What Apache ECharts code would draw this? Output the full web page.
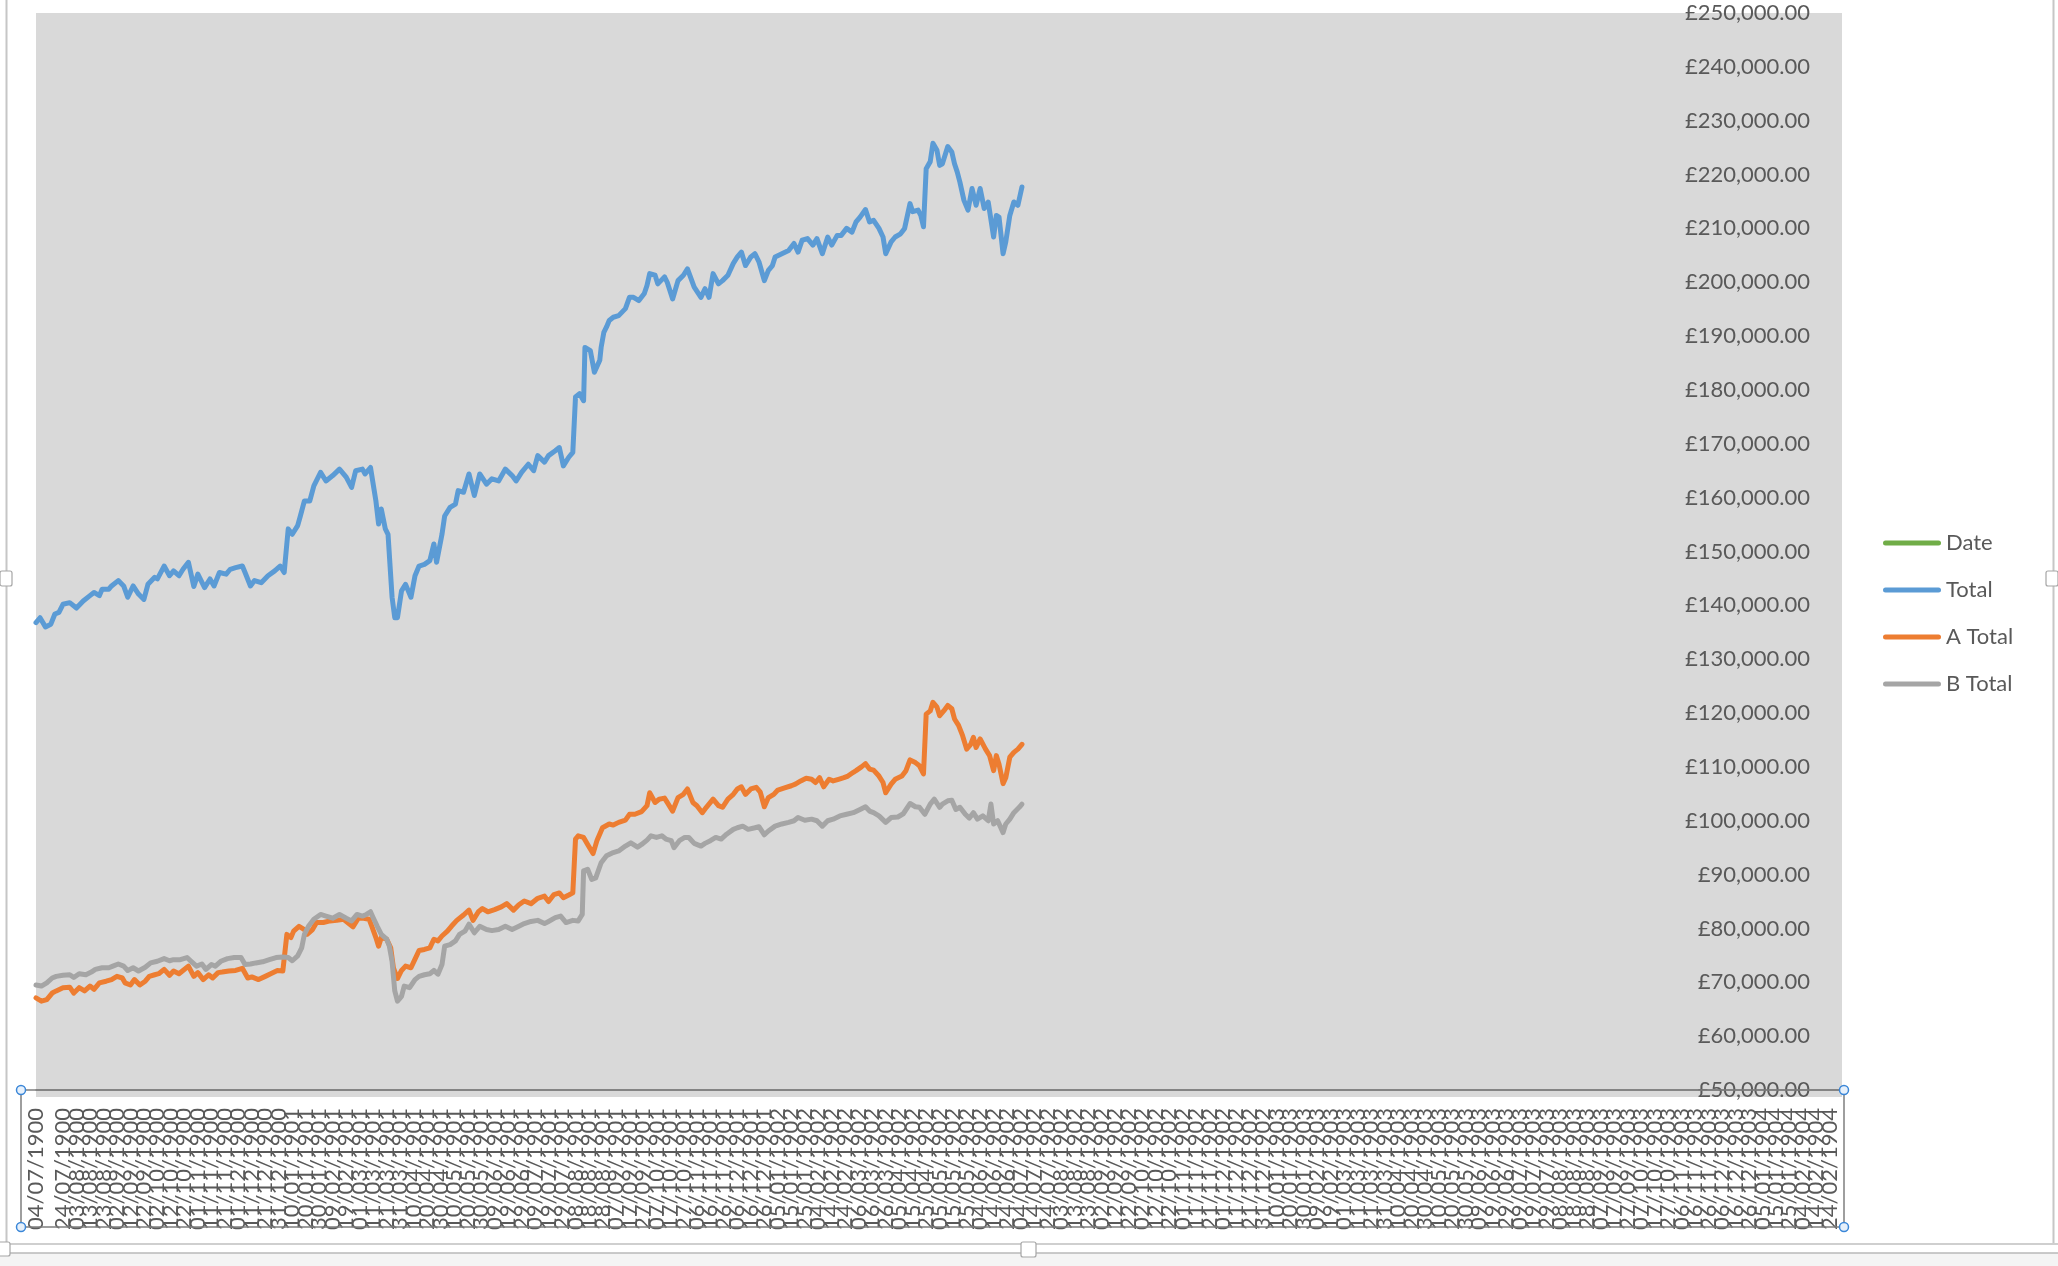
<!DOCTYPE html>
<html>
<head>
<meta charset="utf-8">
<script src="https://cdn.jsdelivr.net/npm/echarts@6/dist/echarts.min.js"></script>
<style>
html,body{margin:0;padding:0;background:#fff;}
#chart{width:2058px;height:1266px;}
</style>
</head>
<body>
<div id="chart"></div>
<script>
// Day offsets are counted from 04/07/1900
const startDate = [1900, 7, 4];
const seriesNames = ['Date', 'Total', 'A Total', 'B Total'];
const seriesColors = ['#70ad47', '#5b9bd5', '#ed7d31', '#a5a5a5'];
const yMin = 50000, yMax = 250000, yStep = 10000;
const xStepDays = 10, xLastLabelDay = 1330;

const totalDays = [0,3,7,11,14,17,20,25,30,35,40,43,47,49,54,56,61,65,68,72,76,80,83,88,90,95,99,102,106,109,113,117,120,125,129,132,136,141,144,148,153,155,159,162,167,172,177,181,184,187,190,194,196,199,203,206,211,215,220,225,230,234,237,242,244,248,252,254,256,259,261,264,266,268,271,274,278,281,284,288,292,295,297,301,303,307,311,313,317,321,325,329,334,338,343,348,353,356,360,365,369,372,377,380,385,388,391,395,398,400,403,406,407,411,414,418,419,421,423,425,428,432,437,440,443,447,451,453,455,459,461,466,468,472,476,480,483,488,493,496,499,502,506,509,513,517,520,523,526,530,533,536,540,543,546,548,553,558,562,565,568,572,576,579,583,587,590,594,597,601,605,608,611,615,618,621,625,628,630,634,637,641,644,648,650,654,656,658,660,663,665,668,670,672,676,679,681,683,685,688,691,694,697,700,703,706,710,712,714,717,719,722,725,728,731];
const totalValues = [136800,137700,136000,136500,138400,138700,140200,140500,139500,140800,141800,142400,141800,143000,143000,143600,144600,143600,141500,143600,142100,141100,143900,145200,144900,147300,145500,146400,145500,146700,148000,143500,145800,143300,144900,143600,146100,145800,146700,147000,147300,146100,143600,144600,144200,145500,146400,147300,146100,154200,153200,154800,156600,159400,159400,162200,164700,163100,164100,165300,163800,161900,165000,165300,164400,165600,159400,155100,157900,154200,153200,141500,137700,137700,142700,143900,141500,145500,147300,147600,148300,151400,148000,153200,156600,158200,158800,161300,161000,164400,160400,164400,162500,163500,163100,165300,164100,163100,164700,166200,165000,167800,166600,167800,168700,169300,165900,167500,168400,178700,179300,178000,187900,187300,183300,185500,187900,190700,191700,192900,193500,193800,195100,197200,197200,196600,197900,199400,201600,201300,199700,201000,200000,196900,200300,201300,202500,199100,197200,198800,197200,201600,199700,200300,201300,203500,204700,205600,203100,204700,205300,203800,200300,202200,203100,204700,205300,205900,207200,205600,207800,208100,206900,208100,205300,208400,206900,208700,208700,210000,209300,211200,212100,213500,211200,211500,210000,208400,205300,207500,208400,209000,210000,214600,213100,213400,212400,210300,221100,222400,225800,224500,221700,222000,225200,224200,222000,220500,218600,215200,213400,217400,214300,217400,213700,214900,208400,212400,212100,205300,207500,212400,214900,214300,217700];

const aDays = [0,4,8,12,15,20,25,28,32,36,40,43,47,52,56,60,64,66,70,73,77,81,84,88,91,95,99,102,106,109,113,117,120,124,128,131,135,138,143,148,153,157,160,165,170,174,179,183,186,189,191,195,199,201,205,208,213,218,223,228,231,235,239,243,247,249,252,254,256,260,263,265,268,271,274,278,281,284,288,292,295,298,301,305,308,312,317,321,324,328,331,335,340,345,349,354,358,362,367,372,377,380,384,388,391,395,398,400,402,406,409,413,416,420,425,428,432,437,440,444,449,453,455,459,462,466,468,472,476,480,483,487,490,494,497,502,506,509,513,517,520,523,526,530,534,537,540,543,547,550,555,560,563,567,571,575,578,581,584,588,591,595,599,602,606,608,612,615,618,621,625,628,630,634,637,642,645,648,652,655,658,660,663,665,668,670,673,676,679,681,684,687,690,693,695,697,700,704,707,710,712,714,717,719,722,725,728,731];
const aValues = [67100,66500,66800,68000,68400,69000,69100,68000,69000,68400,69300,68700,69900,70200,70500,71100,70800,69900,69500,70500,69500,70200,71100,71400,71600,72400,71300,72100,71600,72200,73000,71100,71800,70500,71400,70800,71800,71900,72100,72200,72600,70800,71000,70500,71100,71600,72200,72100,78900,78300,79500,80400,79800,78900,79800,81100,81100,81400,81500,81700,81100,80300,81900,81900,81700,80400,78300,76700,78300,78000,76400,72700,70700,72200,73000,72700,74300,75900,76100,76400,78000,77700,78600,79500,80400,81500,82500,83400,81500,83100,83700,83100,83500,84000,84600,83400,84400,85100,84600,85600,86000,85000,86300,86600,85700,86200,86600,96600,97200,96900,95600,93900,96400,98700,99400,99200,99700,100100,101200,101200,101700,102800,105200,103400,104000,104200,103400,101800,104300,104900,105900,103400,102800,101500,102500,104000,102800,102500,104000,104900,105900,106300,104900,105900,106200,105300,102600,104300,104900,105700,106100,106500,106800,107400,107900,107700,107100,108000,106300,107700,107400,107700,108000,108300,109000,109300,110000,110600,109600,109400,108300,107100,105200,106800,107700,108300,109300,111300,110800,110200,108700,119800,120400,122000,121100,119500,120400,121400,120800,118900,117700,115800,113300,114200,115500,113600,115200,113300,112100,109300,112100,110500,106900,108000,111800,112700,113300,114200];

const bDays = [0,4,8,12,15,20,25,28,32,37,41,44,49,54,57,61,65,68,72,76,81,85,90,95,99,102,107,112,115,119,123,126,130,133,137,142,147,152,155,159,163,168,173,178,183,187,190,194,197,199,202,206,211,215,220,225,230,234,238,242,245,248,250,253,256,260,262,264,266,268,271,273,277,281,284,288,292,295,298,301,303,307,311,314,318,321,325,329,334,338,343,348,353,358,362,367,372,377,380,385,389,393,398,402,405,406,409,412,415,419,423,428,432,437,441,446,449,453,456,460,464,467,471,473,477,481,484,488,493,496,500,504,508,512,517,520,524,528,533,536,540,543,548,553,558,562,565,570,575,579,583,587,591,596,601,606,611,615,618,621,625,630,634,639,643,648,652,655,659,663,666,670,672,676,679,682,685,689,692,695,698,702,706,708,710,713,717,719,722,725,729,731];
const bValues = [69500,69300,69900,70800,71100,71300,71400,70900,71600,71400,71900,72400,72700,72700,73000,73400,73000,72200,72700,72100,72800,73600,73900,74400,74000,74200,74200,74600,73900,73000,73400,72400,73300,73000,73900,74400,74600,74600,73300,73400,73600,73800,74200,74600,74700,74600,74000,74900,76400,78900,80400,81700,82600,82300,81900,82600,81900,81400,82600,82300,82600,83100,82000,80400,78900,78000,76700,73900,68400,66500,67400,69300,69000,70500,71100,71400,71600,72200,71500,73300,76700,77000,77700,78900,79500,80800,79200,80400,79800,79600,79800,80400,79800,80400,80900,81300,81500,80900,81300,82000,82300,81100,81500,81400,82600,90700,91000,89100,89400,92200,93500,94100,94400,95300,95900,95100,95600,96400,97200,96900,97200,96600,96300,95000,96300,96900,96900,95800,95300,95800,96300,96900,96600,97500,98400,98700,99000,98400,98700,98900,97400,98100,99000,99400,99700,100000,100600,100100,100300,100000,99000,100000,100300,100900,101200,101500,102100,102600,101800,101500,100900,99700,100600,100700,101300,103200,102600,102500,101200,103100,104000,102500,103100,103700,103800,102100,102500,101200,100500,101500,100300,100900,100000,103100,99400,100000,97800,99400,100300,101500,102500,103100];

function pad(n){ return (n < 10 ? '0' : '') + n; }
const START_MS = Date.UTC(startDate[0], startDate[1] - 1, startDate[2]);
function fmtDate(d){
  const dt = new Date(START_MS + Math.round(d) * 86400000);
  return pad(dt.getUTCDate()) + '/' + pad(dt.getUTCMonth() + 1) + '/' + dt.getUTCFullYear();
}
function fmtMoney(v){
  return '£' + String(Math.round(v)).replace(/\B(?=(\d{3})+(?!\d))/g, ',') + '.00';
}
function pairs(days, vals){ return days.map((d, i) => [d, vals[i]]); }

const chart = echarts.init(document.getElementById('chart'), null, {renderer: 'canvas'});
const FONT = 'Lato, "Open Sans", sans-serif';
const lineSeries = (name, color, data) => ({
  name: name, type: 'line', data: data, showSymbol: false, symbol: 'none',
  color: color, itemStyle: {color: color},
  lineStyle: {color: color, width: 5, cap: 'round', join: 'round'},
  emphasis: {disabled: true}, silent: true, clip: true
});

const option = {
  backgroundColor: '#ffffff',
  animation: false,
  grid: {left: 36, right: 216, top: 13, bottom: 176, show: true, backgroundColor: '#d9d9d9', borderWidth: 0, containLabel: false, outerBoundsMode: 'none'},
  xAxis: {
    type: 'value', min: 0, max: xLastLabelDay + 9, interval: xStepDays,
    axisLine: {show: true, onZero: false, lineStyle: {color: '#7f7f7f', width: 1.5}},
    axisTick: {show: false}, splitLine: {show: false},
    axisLabel: {rotate: 90, margin: 18, color: '#595959', fontSize: 22, fontFamily: FONT,
      showMaxLabel: false, showMinLabel: true, hideOverlap: false, formatter: fmtDate}
  },
  yAxis: {
    type: 'value', position: 'right', min: yMin, max: yMax, interval: yStep,
    axisLine: {show: false}, axisTick: {show: false}, splitLine: {show: false},
    axisLabel: {inside: true, margin: 32, color: '#595959', fontSize: 22, fontFamily: FONT, formatter: fmtMoney}
  },
  legend: {
    orient: 'vertical', left: 1878, top: 527, itemWidth: 58, itemHeight: 5, itemGap: 25,
    icon: 'path://M2.5,0L55.5,0A2.5,2.5,0,0,1,55.5,5L2.5,5A2.5,2.5,0,0,1,2.5,0Z',
    textStyle: {color: '#595959', fontSize: 22, fontFamily: FONT},
    data: seriesNames, selectedMode: false
  },
  graphic: [
    {type: 'rect', z: -10, silent: true, shape: {x: 36, y: 1090, width: 1806, height: 7}, style: {fill: '#d9d9d9'}},
    {type: 'line', z: 50, silent: true, shape: {x1: 6.5, y1: 0, x2: 6.5, y2: 1244}, style: {stroke: '#c6c6c6', lineWidth: 2}},
    {type: 'line', z: 50, silent: true, shape: {x1: 2053.5, y1: 0, x2: 2053.5, y2: 1244}, style: {stroke: '#c6c6c6', lineWidth: 2}},
    {type: 'line', z: 50, silent: true, shape: {x1: 0, y1: 1244, x2: 2058, y2: 1244}, style: {stroke: '#cfcfcf', lineWidth: 2}},
    {type: 'rect', z: 49, silent: true, shape: {x: 0, y: 1253, width: 2058, height: 13}, style: {fill: '#f4f4f4'}},
    {type: 'line', z: 50, silent: true, shape: {x1: 0, y1: 1253, x2: 2058, y2: 1253}, style: {stroke: '#b8b8b8', lineWidth: 1.5}},
    {type: 'rect', z: 60, silent: true, shape: {x: 21, y: 1090, width: 1823, height: 137}, style: {fill: 'none', stroke: '#7f7f7f', lineWidth: 1.5}},
    {type: 'circle', z: 61, silent: true, shape: {cx: 21, cy: 1090, r: 4.5}, style: {fill: '#e6f0fb', stroke: '#3b87d8', lineWidth: 1.5}},
    {type: 'circle', z: 61, silent: true, shape: {cx: 1844, cy: 1090, r: 4.5}, style: {fill: '#e6f0fb', stroke: '#3b87d8', lineWidth: 1.5}},
    {type: 'circle', z: 61, silent: true, shape: {cx: 21, cy: 1227, r: 4.5}, style: {fill: '#e6f0fb', stroke: '#3b87d8', lineWidth: 1.5}},
    {type: 'circle', z: 61, silent: true, shape: {cx: 1844, cy: 1227, r: 4.5}, style: {fill: '#e6f0fb', stroke: '#3b87d8', lineWidth: 1.5}},
    {type: 'rect', z: 62, silent: true, shape: {x: 1021, y: 1242, width: 15, height: 15, r: 2}, style: {fill: '#ffffff', stroke: '#a6a6a6', lineWidth: 1.2}},
    {type: 'rect', z: 62, silent: true, shape: {x: 0, y: 571, width: 12, height: 15, r: 2}, style: {fill: '#ffffff', stroke: '#a6a6a6', lineWidth: 1.2}},
    {type: 'rect', z: 62, silent: true, shape: {x: 2046, y: 571, width: 12, height: 15, r: 2}, style: {fill: '#ffffff', stroke: '#a6a6a6', lineWidth: 1.2}},
    {type: 'rect', z: 62, silent: true, shape: {x: -3, y: 1242, width: 13, height: 14, r: 2}, style: {fill: '#ffffff', stroke: '#a6a6a6', lineWidth: 1.2}}
  ],
  series: [
    lineSeries(seriesNames[0], seriesColors[0], []),
    lineSeries(seriesNames[1], seriesColors[1], pairs(totalDays, totalValues)),
    lineSeries(seriesNames[2], seriesColors[2], pairs(aDays, aValues)),
    lineSeries(seriesNames[3], seriesColors[3], pairs(bDays, bValues))
  ]
};
chart.setOption(option);
</script>
</body>
</html>
